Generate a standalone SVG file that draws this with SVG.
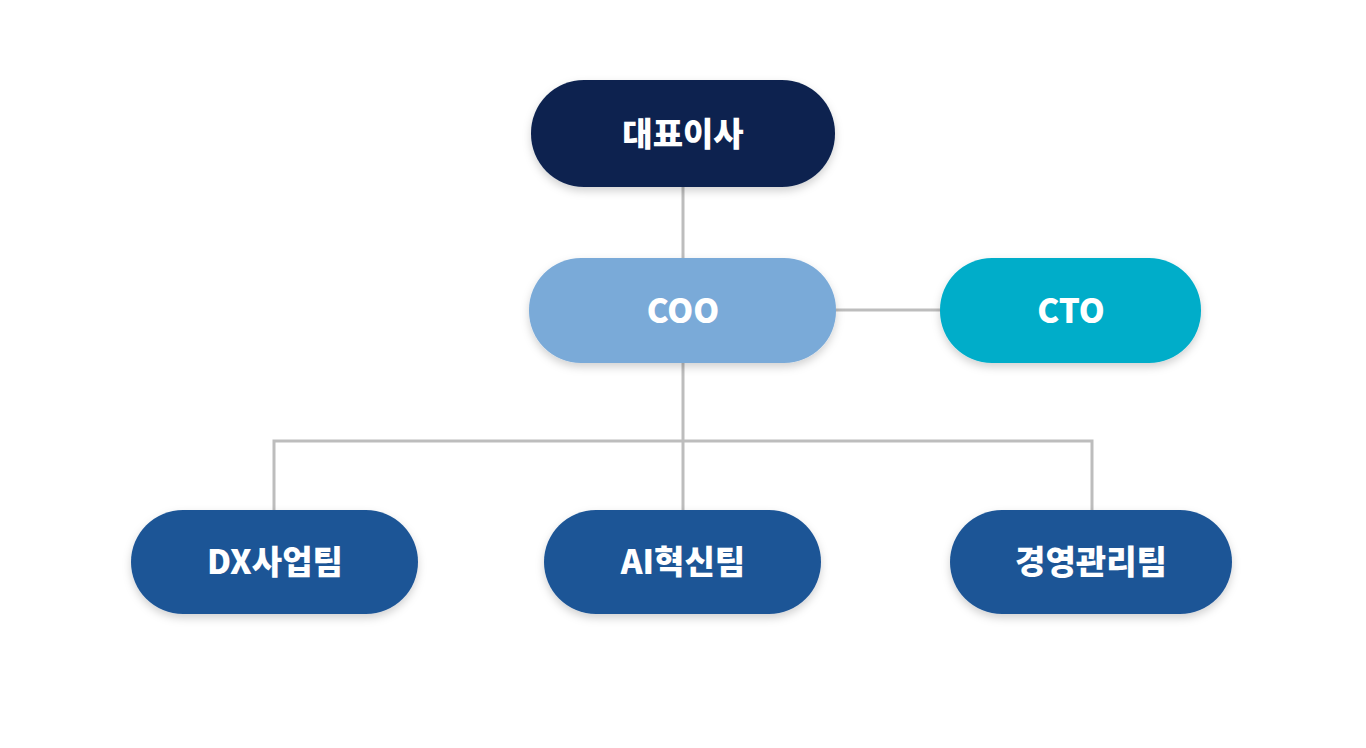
<svg xmlns="http://www.w3.org/2000/svg" width="1366" height="748" viewBox="0 0 1366 748">
<defs>
<filter id="sh" x="-10%" y="-20%" width="120%" height="150%">
<feDropShadow dx="0" dy="4" stdDeviation="4" flood-color="#000" flood-opacity="0.18"/>
</filter>
</defs>
<style>
.lbl{font-family:"Noto Sans CJK KR","Noto Sans",sans-serif;font-weight:900;font-size:33px;fill:#fff;text-anchor:middle;dominant-baseline:central}
.con{stroke:#bdbdbd;stroke-width:3;fill:none}
.box{filter:url(#sh)}
</style>
<rect width="1366" height="748" fill="#fff"/>
<g id="connectors">
<line class="con" x1="683" y1="187" x2="683" y2="258"/>
<line class="con" x1="836" y1="310" x2="940" y2="310"/>
<line class="con" x1="683" y1="363" x2="683" y2="510"/>
<polyline class="con" points="274,510 274,441 1092,441 1092,510"/>
</g>
<g id="ceo">
<rect class="box" x="531" y="80" width="304" height="107" rx="53" fill="#0b2350"/>
<text class="lbl" x="683" y="132">대표이사</text>
</g>
<g id="coo">
<rect class="box" x="529" y="258" width="307" height="105" rx="52" fill="#7aaad8"/>
<text class="lbl" x="683" y="309">COO</text>
</g>
<g id="cto">
<rect class="box" x="940" y="258" width="261" height="105" rx="52" fill="#05adc9"/>
<text class="lbl" x="1071" y="309">CTO</text>
</g>
<g id="dx">
<rect class="box" x="131" y="510" width="287" height="104" rx="52" fill="#1d5596"/>
<text class="lbl" x="275" y="560">DX사업팀</text>
</g>
<g id="ai">
<rect class="box" x="544" y="510" width="277" height="104" rx="52" fill="#1d5596"/>
<text class="lbl" x="683" y="560">AI혁신팀</text>
</g>
<g id="mgmt">
<rect class="box" x="950" y="510" width="282" height="104" rx="52" fill="#1d5596"/>
<text class="lbl" x="1091" y="560">경영관리팀</text>
</g>
</svg>
